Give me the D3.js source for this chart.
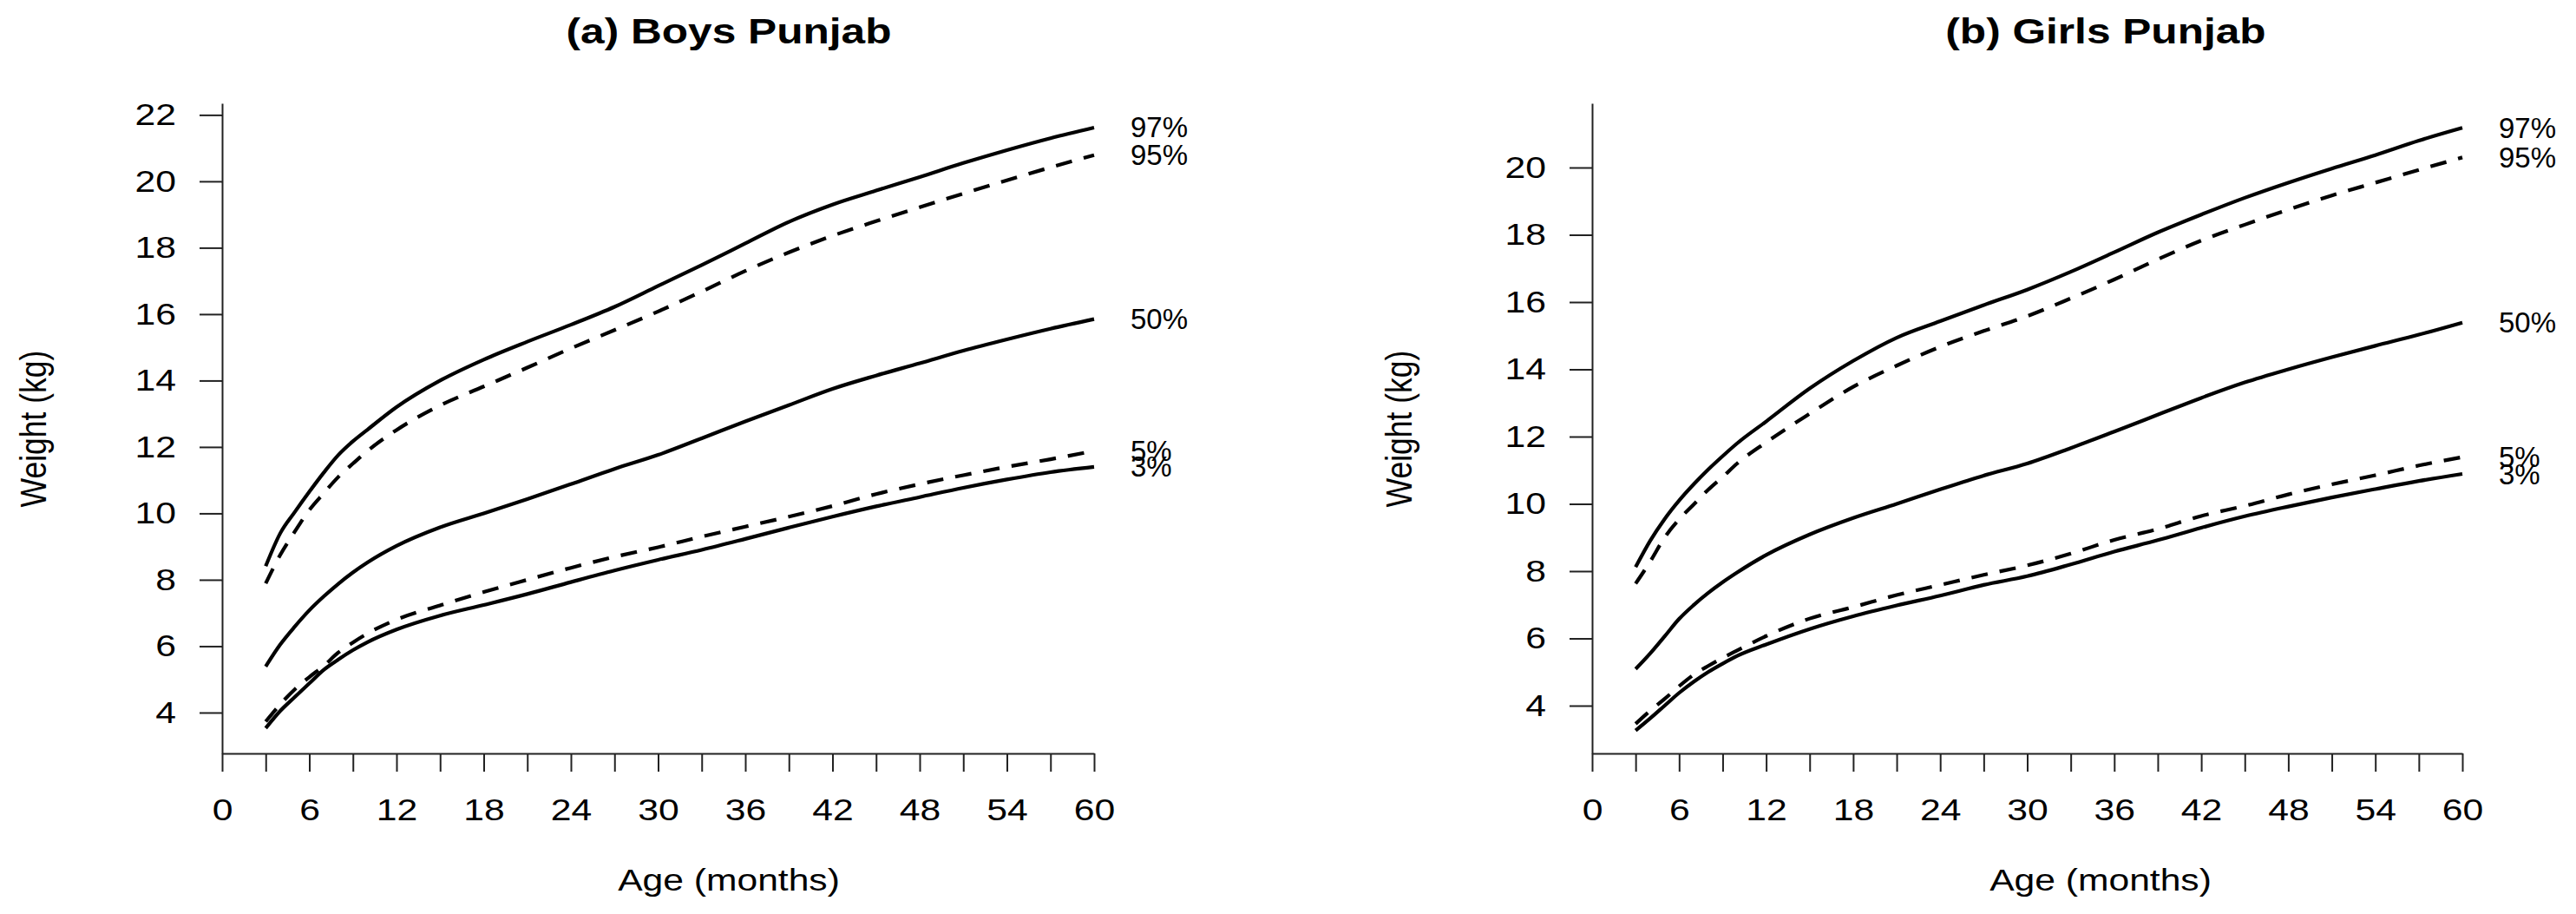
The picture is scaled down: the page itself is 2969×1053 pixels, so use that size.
<!DOCTYPE html>
<html>
<head>
<meta charset="utf-8">
<script src="https://cdn.jsdelivr.net/npm/d3@7"></script>
<style>
  body { margin: 0; background: #fff; }
  text { font-family: "Liberation Sans", Arial, sans-serif; fill: #000; }
</style>
</head>
<body>
<div id="chart"></div>
<script>
// age in months
var ages = [3, 4, 5, 6, 7, 8, 9, 10, 12, 15, 18, 21, 24, 27, 30, 33, 36, 39, 42, 45, 48, 51, 54, 57, 60];

// boys weight centiles (kg)
var boys97 = [8.41, 9.4, 10.04, 10.65, 11.23, 11.76, 12.17, 12.52, 13.2, 14.0, 14.63, 15.17, 15.68, 16.22, 16.85, 17.48, 18.13, 18.78, 19.3, 19.72, 20.13, 20.55, 20.94, 21.3, 21.62];
var boys95 = [7.89, 8.75, 9.45, 10.1, 10.61, 11.1, 11.5, 11.88, 12.51, 13.25, 13.82, 14.39, 14.97, 15.52, 16.08, 16.68, 17.3, 17.86, 18.36, 18.8, 19.22, 19.63, 20.03, 20.42, 20.79];
var boys50 = [5.39, 6.05, 6.59, 7.08, 7.5, 7.88, 8.22, 8.52, 9.02, 9.58, 10.0, 10.43, 10.88, 11.34, 11.76, 12.26, 12.77, 13.26, 13.75, 14.15, 14.52, 14.9, 15.24, 15.56, 15.85];
var boys5 = [3.73, 4.25, 4.7, 5.07, 5.41, 5.81, 6.11, 6.38, 6.8, 7.23, 7.63, 8.0, 8.36, 8.69, 8.98, 9.3, 9.6, 9.9, 10.22, 10.58, 10.88, 11.15, 11.4, 11.63, 11.88];
var boys3 = [3.53, 4.05, 4.47, 4.88, 5.29, 5.6, 5.88, 6.12, 6.5, 6.92, 7.24, 7.57, 7.93, 8.28, 8.6, 8.9, 9.23, 9.57, 9.9, 10.21, 10.49, 10.77, 11.02, 11.24, 11.4];

// girls weight centiles (kg)
var girls97 = [8.12, 8.9, 9.55, 10.1, 10.58, 11.02, 11.42, 11.8, 12.45, 13.43, 14.25, 14.94, 15.43, 15.91, 16.37, 16.9, 17.48, 18.07, 18.6, 19.1, 19.55, 19.97, 20.37, 20.8, 21.18];
var girls95 = [7.63, 8.28, 9.0, 9.54, 9.98, 10.42, 10.8, 11.2, 11.83, 12.68, 13.48, 14.11, 14.67, 15.14, 15.58, 16.11, 16.67, 17.27, 17.83, 18.3, 18.75, 19.17, 19.55, 19.93, 20.3];
var girls50 = [5.09, 5.55, 6.06, 6.58, 6.99, 7.35, 7.67, 7.96, 8.48, 9.09, 9.58, 10.0, 10.43, 10.84, 11.2, 11.66, 12.15, 12.65, 13.15, 13.61, 14.0, 14.36, 14.7, 15.03, 15.39];
var girls5 = [3.46, 3.85, 4.2, 4.58, 4.92, 5.18, 5.42, 5.64, 6.07, 6.59, 6.93, 7.29, 7.59, 7.89, 8.17, 8.52, 8.93, 9.25, 9.64, 9.94, 10.28, 10.58, 10.85, 11.14, 11.39];
var girls3 = [3.26, 3.62, 4.0, 4.38, 4.71, 5.0, 5.25, 5.48, 5.82, 6.28, 6.66, 6.98, 7.27, 7.59, 7.85, 8.2, 8.58, 8.92, 9.29, 9.63, 9.92, 10.19, 10.44, 10.68, 10.89];

var centileLabels = ["97%", "95%", "50%", "5%", "3%"];
var centileDashed = [false, true, false, true, false];

var xTicks = d3.range(0, 61, 3);
var boysYTicks = [4, 6, 8, 10, 12, 14, 16, 18, 20, 22];
var girlsYTicks = [4, 6, 8, 10, 12, 14, 16, 18, 20];

var svgWidth = 2969;
var svgHeight = 1053;

// the original glyphs are wider than Liberation Sans, stretch them sideways
function widen(sel, sx) {
  sel.each(function() {
    var w = this.getComputedTextLength();
    if (w > 0) {
      d3.select(this)
        .attr("textLength", w * sx)
        .attr("lengthAdjust", "spacingAndGlyphs");
    }
  });
}

var svg = d3.select("#chart")
  .append("svg")
  .attr("width", svgWidth)
  .attr("height", svgHeight);

function drawPanel(p) {
  var x = d3.scaleLinear().domain([0, 60]).range([p.left, p.right]);
  var y = d3.scaleLinear().domain(p.yDomain).range([868, 119]);

  var g = svg.append("g");

  // title
  g.append("text")
    .attr("x", p.titleX)
    .attr("y", 50)
    .attr("text-anchor", "middle")
    .style("font-size", "41px")
    .style("font-weight", "bold")
    .text(p.title)
    .call(widen, 1.21);

  // x axis
  var xAxis = g.append("g")
    .attr("transform", "translate(0,868)")
    .call(d3.axisBottom(x)
      .tickValues(xTicks)
      .tickSize(21)
      .tickSizeOuter(0)
      .tickPadding(31)
      .tickFormat(function(d) { return d % 6 === 0 ? d : ""; }));

  // y axis
  var yAxis = g.append("g")
    .attr("transform", "translate(" + p.left + ",0)")
    .call(d3.axisLeft(y)
      .tickValues(p.yTicks)
      .tickSize(26)
      .tickSizeOuter(0)
      .tickPadding(27));

  [xAxis, yAxis].forEach(function(a) {
    a.selectAll("path, line").attr("stroke", "#222").attr("stroke-width", 2);
    a.selectAll("text").style("font-size", "35px").attr("fill", "#000").call(widen, 1.22);
  });

  // axis titles
  g.append("text")
    .attr("x", p.xLabelX)
    .attr("y", 1026)
    .attr("text-anchor", "middle")
    .style("font-size", "35.5px")
    .text("Age (months)")
    .call(widen, 1.2);

  g.append("text")
    .attr("transform", "translate(" + p.yLabelX + ",494) rotate(-90) scale(1,1.2)")
    .attr("text-anchor", "middle")
    .attr("dy", "0.35em")
    .style("font-size", "35.5px")
    .text("Weight (kg)");

  // centile curves
  var line = d3.line()
    .x(function(d, i) { return x(ages[i]); })
    .y(function(d) { return y(d); })
    .curve(d3.curveMonotoneX);

  p.series.forEach(function(s, i) {
    g.append("path")
      .datum(s)
      .attr("d", line)
      .attr("fill", "none")
      .attr("stroke", "#000")
      .attr("stroke-width", 4.2)
      .attr("stroke-dasharray", centileDashed[i] ? "19,14" : null);

    g.append("text")
      .attr("x", x(60) + 42)
      .attr("y", y(s[s.length - 1]))
      .attr("dy", "0.35em")
      .style("font-size", "33px")
      .text(centileLabels[i]);
  });
}

drawPanel({
  title: "(a) Boys Punjab",
  titleX: 840,
  left: 256,
  right: 1261,
  yDomain: [2.77, 22.35],
  yTicks: boysYTicks,
  xLabelX: 840,
  yLabelX: 38,
  series: [boys97, boys95, boys50, boys5, boys3]
});

drawPanel({
  title: "(b) Girls Punjab",
  titleX: 2427,
  left: 1835,
  right: 2838,
  yDomain: [2.58, 21.91],
  yTicks: girlsYTicks,
  xLabelX: 2421,
  yLabelX: 1612,
  series: [girls97, girls95, girls50, girls5, girls3]
});
</script>
</body>
</html>
